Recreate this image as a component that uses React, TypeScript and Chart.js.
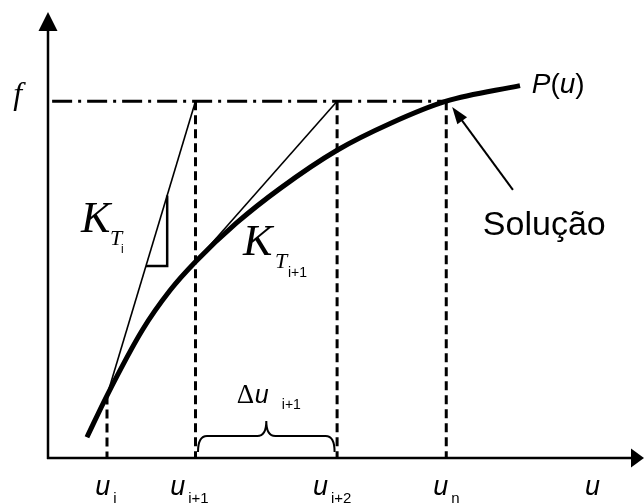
import { useEffect, useRef } from "react";
import { Chart, registerables } from "chart.js";

Chart.register(...registerables);

// Load–displacement curve P(u)
const curveU = [6.6, 10, 16, 20.7, 25, 32, 39.3, 49, 58, 67.5, 80];
const curveP = [4.65, 14, 28.7, 37.6, 44, 52.75, 60.4, 69, 75, 80, 83.5];

// Newton–Raphson iterates: u_i, u_i+1, u_i+2, u_n and P at each
const iterU = [10, 25, 49, 67.5];
const iterP = [14, 44, 69, 80];
const iterSubs = ["i", "i+1", "i+2", "n"];
const iterLabelU = [8.0, 20.7, 44.9, 65.3];
const loadF = 80;

// Slope triangle drawn on the first tangent (legs at these u values)
const slopeLegU = [16.6, 20.2];

// "Solução" pointer: tail and head
const solTail = [78.8, 60.1];
const solHead = [68.5, 78.7];

const ink = "#000";
const SERIF = "'Liberation Serif', 'DejaVu Serif', serif";
const SANS = "'Liberation Sans', Arial, sans-serif";

const pts = (xs: number[], ys: number[]) => xs.map((x, i) => ({ x, y: ys[i] }));

const kTi = (loadF - iterP[0]) / (iterU[1] - iterU[0]);
const onTangent1 = (u: number) => iterP[0] + kTi * (u - iterU[0]);

const lineDs = (data: { x: number; y: number }[], width: number, dash: number[] = []) => ({
  data,
  showLine: true,
  borderColor: ink,
  borderWidth: width,
  borderDash: dash,
  pointRadius: 0,
  pointHoverRadius: 0,
  fill: false,
  tension: 0,
  clip: false as const,
});

const overlay = {
  id: "overlay",
  afterDatasetsDraw(chart: any) {
    const { ctx } = chart;
    const xs = chart.scales.x;
    const ys = chart.scales.y;
    const X = (v: number) => xs.getPixelForValue(v);
    const Y = (v: number) => ys.getPixelForValue(v);
    ctx.save();
    ctx.fillStyle = ink;
    ctx.strokeStyle = ink;
    ctx.lineCap = "butt";

    // axes with arrowheads
    const x0 = X(0);
    const y0 = Y(0);
    const yTip = Y(100);
    const xTip = chart.width;
    ctx.lineWidth = 2.5;
    ctx.beginPath();
    ctx.moveTo(x0, y0 + 1);
    ctx.lineTo(x0, yTip + 16);
    ctx.moveTo(x0 - 1, y0);
    ctx.lineTo(xTip - 12, y0);
    ctx.stroke();
    ctx.beginPath();
    ctx.moveTo(x0, yTip);
    ctx.lineTo(x0 - 9.5, yTip + 19);
    ctx.lineTo(x0 + 9.5, yTip + 19);
    ctx.closePath();
    ctx.fill();
    ctx.beginPath();
    ctx.moveTo(xTip, y0);
    ctx.lineTo(xTip - 13, y0 - 9.5);
    ctx.lineTo(xTip - 13, y0 + 9.5);
    ctx.closePath();
    ctx.fill();

    // pointer to the converged solution
    const tx = X(solTail[0]);
    const ty = Y(solTail[1]);
    const hx = X(solHead[0]);
    const hy = Y(solHead[1]);
    const ang = Math.atan2(hy - ty, hx - tx);
    const hl = 17;
    const hw = 6;
    ctx.lineWidth = 2;
    ctx.beginPath();
    ctx.moveTo(tx, ty);
    ctx.lineTo(hx - Math.cos(ang) * (hl - 2), hy - Math.sin(ang) * (hl - 2));
    ctx.stroke();
    ctx.beginPath();
    ctx.moveTo(hx, hy);
    ctx.lineTo(hx - Math.cos(ang) * hl - Math.sin(ang) * hw, hy - Math.sin(ang) * hl + Math.cos(ang) * hw);
    ctx.lineTo(hx - Math.cos(ang) * hl + Math.sin(ang) * hw, hy - Math.sin(ang) * hl - Math.cos(ang) * hw);
    ctx.closePath();
    ctx.fill();

    // brace over the increment Δu_i+1
    const bl = X(iterU[1]) + 2.5;
    const br = X(iterU[2]) - 2.5;
    const bc = (bl + br) / 2;
    const bBot = y0 - 6;
    const bMid = y0 - 22;
    const bTop = y0 - 37;
    ctx.lineWidth = 2;
    ctx.beginPath();
    ctx.moveTo(bl, bBot);
    ctx.quadraticCurveTo(bl, bMid, bl + 9, bMid);
    ctx.lineTo(bc - 9, bMid);
    ctx.quadraticCurveTo(bc, bMid, bc, bTop);
    ctx.quadraticCurveTo(bc, bMid, bc + 9, bMid);
    ctx.lineTo(br - 9, bMid);
    ctx.quadraticCurveTo(br, bMid, br, bBot);
    ctx.stroke();

    // text
    ctx.textBaseline = "alphabetic";
    ctx.textAlign = "left";
    const put = (s: string, px: number, py: number, font: string) => {
      ctx.font = font;
      ctx.fillText(s, px, py);
      return ctx.measureText(s).width;
    };

    // f on the vertical axis
    put("f", X(-5.9), Y(79.4), `italic 32px ${SERIF}`);

    // u labels under the horizontal axis
    const uBase = Y(-8.3);
    iterLabelU.forEach((u, i) => {
      const px = X(u);
      put("u", px, uBase, `italic 27px ${SANS}`);
      put(iterSubs[i], px + 18, uBase + 8, `15px ${SANS}`);
    });
    put("u", X(91), uBase, `italic 27px ${SANS}`);

    // P(u)
    let px = X(82);
    const pb = Y(81.8);
    px += put("P", px, pb, `italic 28px ${SANS}`);
    px += put("(", px, pb, `28px ${SANS}`);
    px += put("u", px, pb, `italic 28px ${SANS}`);
    put(")", px, pb, `28px ${SANS}`);

    // Solução
    put("Solução", X(73.7), Y(50.0), `34px ${SANS}`);

    // K_Ti
    let kx = X(5.6);
    let kb = Y(50.7);
    put("K", kx, kb, `italic 44px ${SERIF}`);
    put("T", kx + 29, kb + 13, `italic 22px ${SERIF}`);
    put("i", kx + 40, kb + 21, `12px ${SANS}`);

    // K_Ti+1
    kx = X(33.05);
    kb = Y(45.5);
    put("K", kx, kb, `italic 44px ${SERIF}`);
    put("T", kx + 32, kb + 13, `italic 22px ${SERIF}`);
    put("i+1", kx + 45, kb + 22, `14px ${SANS}`);

    // Δu_i+1
    const dx = X(32.0);
    const db = Y(12.3);
    put("Δ", dx, db, `27px ${SERIF}`);
    put("u", dx + 18, db, `italic 25px ${SANS}`);
    put("i+1", dx + 45, db + 6, `14px ${SANS}`);

    ctx.restore();
  },
};

export default function App() {
  const ref = useRef<HTMLCanvasElement | null>(null);

  useEffect(() => {
    if (!ref.current) return;
    const tri = [
      { x: slopeLegU[0], y: onTangent1(slopeLegU[0]) },
      { x: slopeLegU[1], y: onTangent1(slopeLegU[0]) },
      { x: slopeLegU[1], y: onTangent1(slopeLegU[1]) },
    ];
    const verticals = iterU.map((u, i) =>
      lineDs(
        [
          { x: u, y: i === 0 ? iterP[0] : loadF },
          { x: u, y: 0 },
        ],
        3,
        [9, 5]
      )
    );
    const chart = new Chart(ref.current, {
      type: "scatter",
      data: {
        datasets: [
          { ...lineDs(pts(curveU, curveP), 5), cubicInterpolationMode: "monotone" as const },
          lineDs(
            [
              { x: iterU[0], y: iterP[0] },
              { x: iterU[1], y: loadF },
            ],
            1.6
          ),
          lineDs(
            [
              { x: iterU[1], y: iterP[1] },
              { x: iterU[2], y: loadF },
            ],
            1.6
          ),
          lineDs(tri, 2.5),
          lineDs(
            [
              { x: 0.7, y: loadF },
              { x: iterU[3], y: loadF },
            ],
            3,
            [20, 6, 3, 6]
          ),
          ...verticals,
        ] as any,
      },
      options: {
        animation: false,
        responsive: false,
        events: [],
        layout: { padding: { left: 48, right: 6, top: 12, bottom: 46 } },
        scales: {
          x: { type: "linear", min: 0, max: 100, display: false },
          y: { type: "linear", min: 0, max: 100, display: false },
        },
        plugins: {
          legend: { display: false },
          tooltip: { enabled: false },
        },
      },
      plugins: [overlay],
    });
    return () => chart.destroy();
  }, []);

  return (
    <div style={{ position: "absolute", left: 0, top: 0, width: 644, height: 504, background: "#fff" }}>
      <canvas ref={ref} width={644} height={504} style={{ display: "block" }} />
    </div>
  );
}
